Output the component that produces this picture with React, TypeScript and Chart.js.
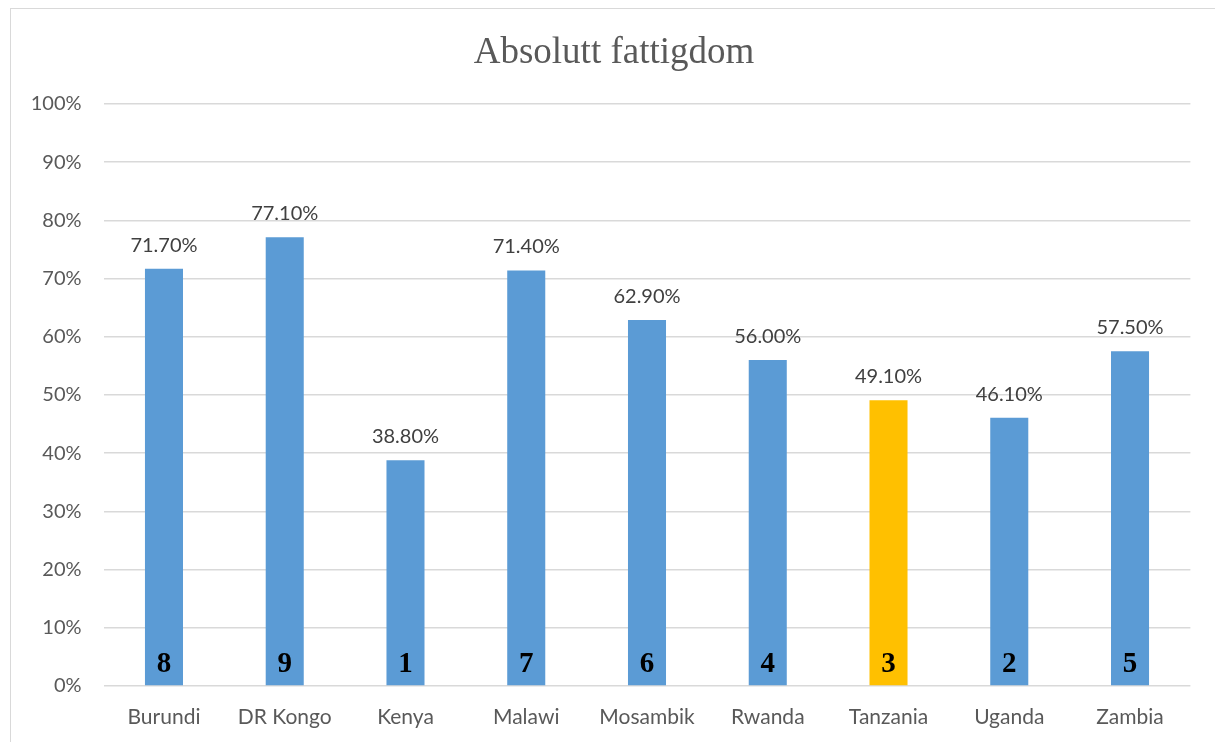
import React, { useEffect, useRef } from "react";
import { Chart, registerables } from "chart.js";

Chart.register(...registerables);

const countries = ["Burundi", "DR Kongo", "Kenya", "Malawi", "Mosambik", "Rwanda", "Tanzania", "Uganda", "Zambia"];
const povertyRates = [71.7, 77.1, 38.8, 71.4, 62.9, 56.0, 49.1, 46.1, 57.5];
const ranks = [8, 9, 1, 7, 6, 4, 3, 2, 5];
const highlighted = "Tanzania";

const BLUE = "#5B9BD5";
const GOLD = "#FFC000";
const SANS = "Lato, 'Open Sans', sans-serif";

const labelPlugin = {
  id: "barLabels",
  afterDatasetsDraw(chart: any) {
    const { ctx } = chart;
    const meta = chart.getDatasetMeta(0);
    ctx.save();
    meta.data.forEach((bar: any, i: number) => {
      // value above the bar
      ctx.font = `20px ${SANS}`;
      ctx.fillStyle = "#404040";
      ctx.textAlign = "center";
      ctx.textBaseline = "alphabetic";
      ctx.fillText(povertyRates[i].toFixed(2) + "%", bar.x, bar.y - 17);
      // rank number at the foot of the bar
      ctx.font = `bold 29px 'Liberation Serif', 'Times New Roman', serif`;
      ctx.fillStyle = "#000000";
      ctx.fillText(String(ranks[i]), bar.x, bar.base - 13);
    });
    ctx.restore();
  },
};

const titlePlugin = {
  id: "chartHeading",
  afterDraw(chart: any) {
    const { ctx } = chart;
    ctx.save();
    ctx.font = `37px 'Liberation Serif', 'Times New Roman', serif`;
    ctx.fillStyle = "#595959";
    ctx.textAlign = "center";
    ctx.textBaseline = "alphabetic";
    ctx.fillText("Absolutt fattigdom", chart.width / 2, 54);
    ctx.restore();
  },
};

export default function App() {
  const canvasRef = useRef<HTMLCanvasElement | null>(null);

  useEffect(() => {
    if (!canvasRef.current) return;
    const chart = new Chart(canvasRef.current, {
      type: "bar",
      data: {
        labels: countries,
        datasets: [
          {
            data: povertyRates,
            backgroundColor: countries.map((c) => (c === highlighted ? GOLD : BLUE)),
            barPercentage: 0.63,
            categoryPercentage: 0.5,
            borderWidth: 0,
          },
        ],
      },
      options: {
        animation: false,
        responsive: false,
        maintainAspectRatio: false,
        layout: { padding: { top: 95, right: 26.6, bottom: 0, left: 0 } },
        plugins: {
          legend: { display: false },
          title: { display: false },
          tooltip: { enabled: false },
        },
        scales: {
          x: {
            grid: { display: false },
            border: { display: false },
            ticks: {
              color: "#595959",
              font: { family: SANS, size: 21 },
              padding: 11,
            },
            afterFit: (s: any) => {
              s.height = 56;
            },
          },
          y: {
            min: 0,
            max: 100,
            ticks: {
              stepSize: 10,
              color: "#595959",
              font: { family: SANS, size: 20 },
              padding: 22,
              callback: (v: any) => v + "%",
            },
            grid: { color: "#d9d9d9", lineWidth: 1.5, drawTicks: false },
            border: { display: false },
            afterFit: (s: any) => {
              s.width = 92.6;
            },
          },
        },
      },
      plugins: [labelPlugin, titlePlugin],
    });
    return () => chart.destroy();
  }, []);

  return (
    <div
      style={{
        position: "fixed",
        left: 10,
        top: 8,
        width: 1206,
        height: 733,
        border: "1px solid #d9d9d9",
        background: "#fff",
      }}
    >
      <canvas ref={canvasRef} width={1206} height={733} style={{ display: "block" }} />
    </div>
  );
}
